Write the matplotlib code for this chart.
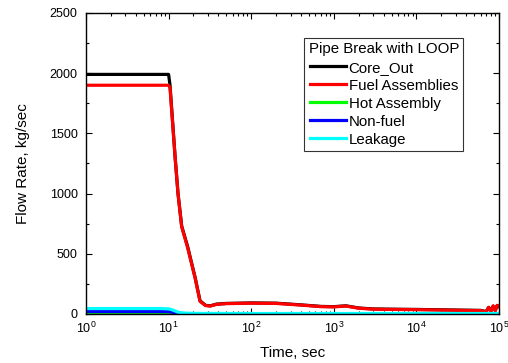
import matplotlib.pyplot as plt
from matplotlib.ticker import LogLocator, MultipleLocator, NullFormatter

plt.rcParams['font.family'] = ['Liberation Sans', 'DejaVu Sans']

# main flows
t_main = [1, 10, 10.4, 12, 13, 14.4, 17, 21, 24, 28, 32, 38, 50, 100, 200, 400, 700,
          1000, 1400, 2000, 3000, 5000, 10000, 30000, 60000, 70000, 75000, 80000,
          85000, 90000, 95000, 100000]
core_out = [1990, 1990, 1900, 1300, 1000, 730, 560, 300, 110, 72, 68, 82, 88, 92, 90, 76, 63,
            61, 68, 50, 42, 40, 38, 33, 30, 20, 55, 25, 65, 30, 70, 60]
fuel = [1900, 1900, 1880, 1300, 1000, 725, 550, 295, 105, 70, 66, 80, 86, 90, 88, 74, 61,
        59, 66, 48, 40, 38, 36, 31, 28, 18, 55, 22, 68, 25, 72, 65]

t_small = [1, 8, 10, 11, 12, 13, 15, 20, 100, 100000]
hot = [8, 8, 8, 6, 4, 2, 1, 1, 1, 1]
nonfuel = [20, 20, 19, 15, 10, 5, 1, 0, 0, 0]
leakage = [45, 45, 43, 35, 25, 15, 8, 5, 4, 4]

fig = plt.figure(figsize=(5.08, 3.63), dpi=100)
ax = fig.add_axes([86 / 508, 1 - 314 / 363, 413 / 508, 301 / 363])

ax.plot(t_main, core_out, color='black', lw=2.3, label='Core_Out')
ax.plot(t_main, fuel, color='red', lw=2.3, label='Fuel Assemblies')
ax.plot(t_small, hot, color='#00ff00', lw=2.3, label='Hot Assembly')
ax.plot(t_small, nonfuel, color='blue', lw=2.3, label='Non-fuel')
ax.plot(t_small, leakage, color='cyan', lw=2.3, label='Leakage')

ax.set_xscale('log')
ax.set_xlim(1, 1e5)
ax.set_ylim(0, 2500)
ax.yaxis.set_major_locator(MultipleLocator(500))
ax.yaxis.set_minor_locator(MultipleLocator(250))
ax.xaxis.set_major_locator(LogLocator(base=10, numticks=10))
ax.xaxis.set_minor_locator(LogLocator(base=10, subs=range(2, 10), numticks=20))
ax.xaxis.set_minor_formatter(NullFormatter())
ax.tick_params(which='both', direction='in', top=True, right=True, labelsize=9)
ax.tick_params(which='major', length=4, width=0.8)
ax.tick_params(which='minor', length=2.5, width=0.8)
ax.tick_params(axis='y', pad=6)
ax.tick_params(axis='x', pad=5)
for s in ax.spines.values():
    s.set_linewidth(1)

ax.set_xlabel('Time, sec', fontsize=11, labelpad=7)
ax.set_ylabel('Flow Rate, kg/sec', fontsize=11, labelpad=14)

leg = ax.legend(title='Pipe Break with LOOP', loc='upper left',
                bbox_to_anchor=(0.528, 0.917), fontsize=10.8, title_fontsize=10.8,
                frameon=True, fancybox=False, edgecolor='black',
                handlelength=2.4, handletextpad=0.2, borderpad=0.3,
                labelspacing=0.27, borderaxespad=0)
leg.get_frame().set_linewidth(0.8)

fig.savefig('out.png', dpi=100)
